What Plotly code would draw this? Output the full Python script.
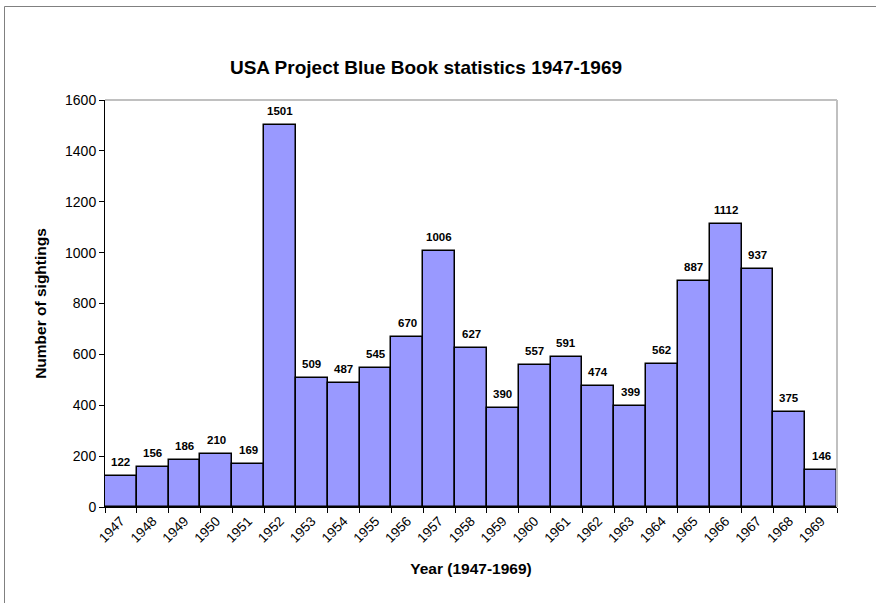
import plotly.graph_objects as go

years = [str(y) for y in range(1947, 1970)]
sightings = [122, 156, 186, 210, 169, 1501, 509, 487, 545, 670, 1006, 627,
             390, 557, 591, 474, 399, 562, 887, 1112, 937, 375, 146]
y_ticks = [0, 200, 400, 600, 800, 1000, 1200, 1400, 1600]

W, H = 876, 603
L, R, T, B = 105, 837, 100, 507
pw, ph = R - L, B - T

def px(x):
    return (x - L) / pw

def py(y):
    return (B - y) / ph

FONT = "Liberation Sans, Arial, sans-serif"

fig = go.Figure()
fig.add_trace(go.Bar(
    x=years, y=sightings,
    marker=dict(color="#9999FF", line=dict(color="black", width=1.5)),
    cliponaxis=False,
    hoverinfo="x+y",
))

annotations = [
    dict(x=i, y=v, xref="x", yref="y", text=f"<b>{v}</b>", showarrow=False,
         yanchor="middle", yshift=14,
         font=dict(family=FONT, size=11.5, color="black"))
    for i, v in enumerate(sightings)
]

fig.update_layout(
    width=W, height=H,
    margin=dict(l=L, r=W - R, t=T, b=H - B),
    paper_bgcolor="white", plot_bgcolor="white",
    bargap=0,
    showlegend=False,
    title=dict(text="<b>USA Project Blue Book statistics 1947-1969</b>",
               x=426 / W, xanchor="center", y=1 - 67 / H, yanchor="middle",
               font=dict(family=FONT, size=19, color="black")),
    font=dict(family=FONT, color="black"),
    annotations=annotations,
)

fig.update_yaxes(
    range=[0, 1600], tickvals=y_ticks, ticks="outside", ticklen=5,
    tickcolor="black", showline=True, linecolor="black", linewidth=1,
    showgrid=False, zeroline=False, tickfont=dict(size=14),
    title=dict(text="<b>Number of sightings</b>", font=dict(size=15.5), standoff=14),
)
fig.update_xaxes(
    type="category", range=[-0.5, len(years) - 0.5],
    ticks="outside", tickson="boundaries", ticklen=5,
    tickcolor="black", showline=True, linecolor="black", linewidth=1,
    showgrid=False, tickangle=-45, tickfont=dict(size=13.5),
    title=dict(text="<b>Year (1947-1969)</b>", font=dict(size=15.5), standoff=18),
)

shapes = [
    dict(type="line", xref="paper", yref="paper", x0=0, x1=1, y0=1, y1=1,
         line=dict(color="#C0C0C0", width=2)),
    dict(type="line", xref="paper", yref="paper", x0=1, x1=1, y0=0, y1=1,
         line=dict(color="#C0C0C0", width=2)),
    dict(type="line", xref="paper", yref="paper", x0=px(4.5), x1=px(890),
         y0=py(6.5), y1=py(6.5), line=dict(color="#808080", width=1)),
    dict(type="line", xref="paper", yref="paper", x0=px(4.5), x1=px(4.5),
         y0=py(6.5), y1=py(620), line=dict(color="#808080", width=1)),
]
fig.update_layout(shapes=shapes)

fig.write_html("out.html", config={"displayModeBar": False},
               post_script="document.body.style.margin='0';")
